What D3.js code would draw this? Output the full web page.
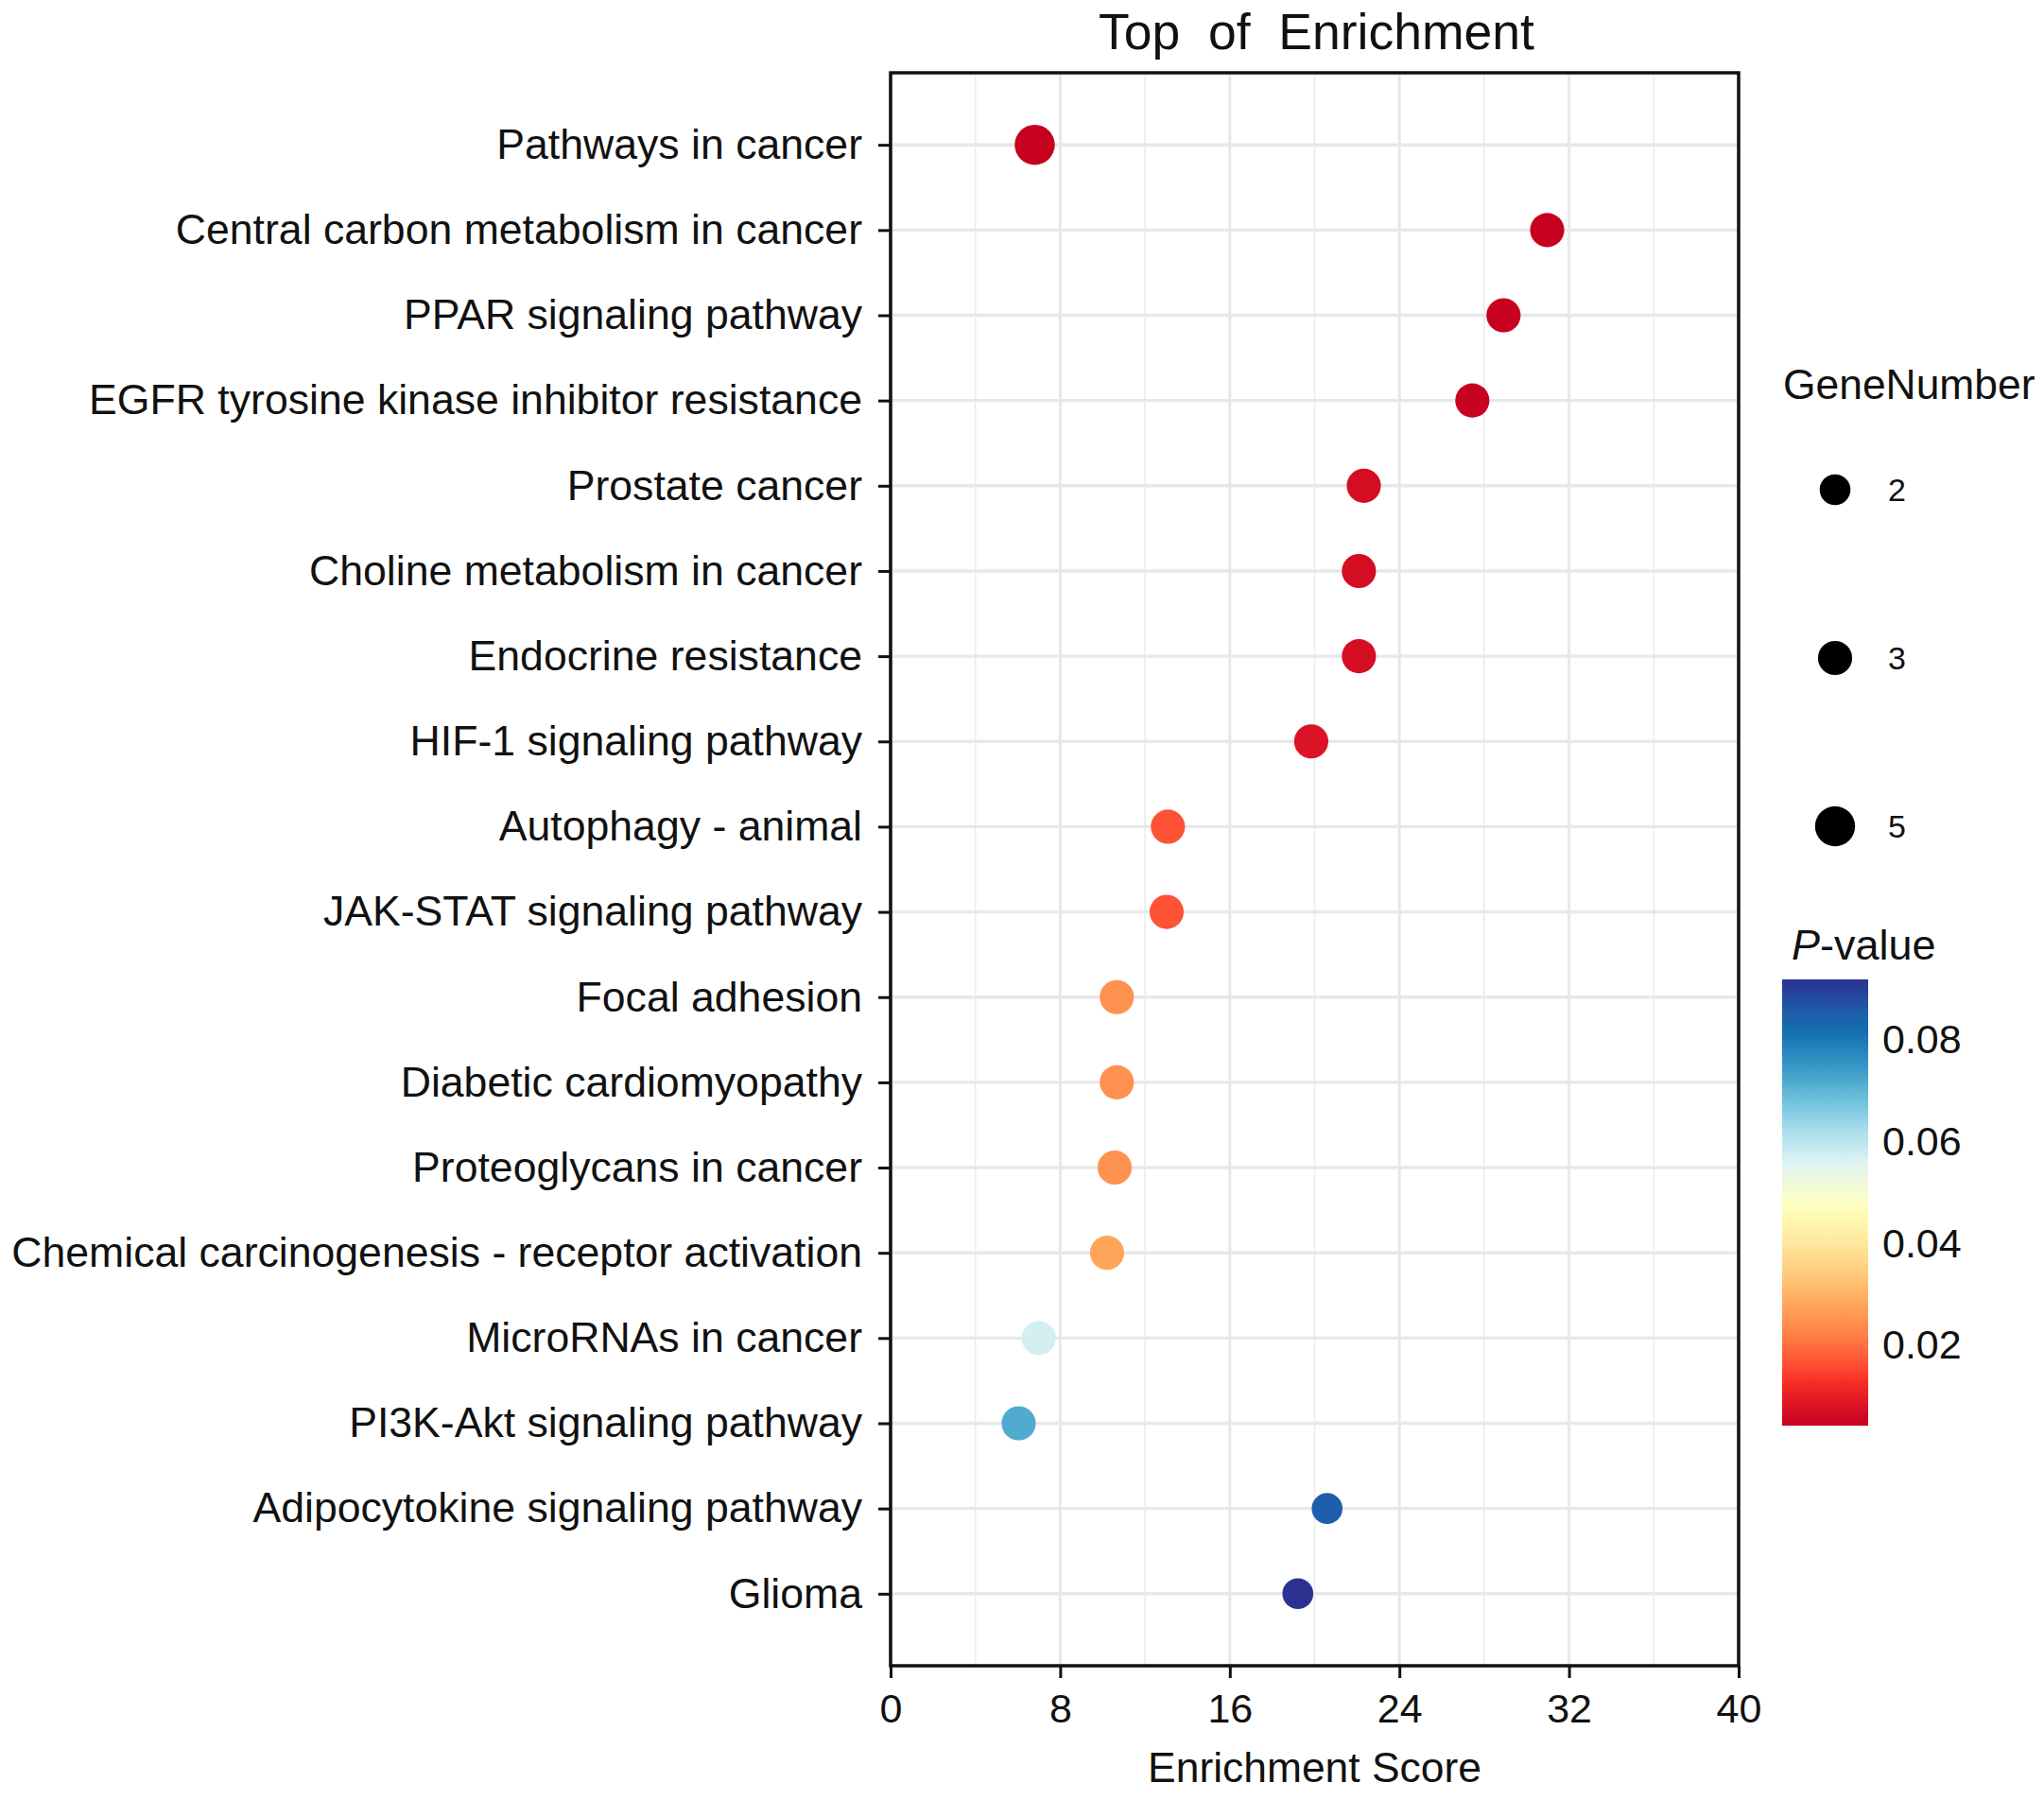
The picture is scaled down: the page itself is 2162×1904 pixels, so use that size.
<!DOCTYPE html>
<html>
<head>
<meta charset="utf-8">
<script src="https://cdn.jsdelivr.net/npm/d3@7"></script>
<style>
  body { margin: 0; background: #fff; }
  svg { display: block; font-family: "Liberation Sans", Arial, sans-serif; }
</style>
</head>
<body>
<svg id="chart" width="2162" height="1904"></svg>
<script>
// data
const pathways = [
  "Pathways in cancer",
  "Central carbon metabolism in cancer",
  "PPAR signaling pathway",
  "EGFR tyrosine kinase inhibitor resistance",
  "Prostate cancer",
  "Choline metabolism in cancer",
  "Endocrine resistance",
  "HIF-1 signaling pathway",
  "Autophagy - animal",
  "JAK-STAT signaling pathway",
  "Focal adhesion",
  "Diabetic cardiomyopathy",
  "Proteoglycans in cancer",
  "Chemical carcinogenesis - receptor activation",
  "MicroRNAs in cancer",
  "PI3K-Akt signaling pathway",
  "Adipocytokine signaling pathway",
  "Glioma"
];
const enrichScore = [6.80, 30.97, 28.91, 27.44, 22.32, 22.09, 22.09, 19.84, 13.08, 13.02,
  10.67, 10.67, 10.57, 10.21, 6.99, 6.04, 20.59, 19.21];
const geneNumber = [5, 3, 3, 3, 3, 3, 3, 3, 3, 3, 3, 3, 3, 3, 3, 3, 2, 2];
const pValue = [0.0041, 0.0043, 0.0044, 0.0046, 0.0067, 0.0068, 0.0068, 0.0080, 0.0164, 0.0166,
  0.0247, 0.0247, 0.0250, 0.0278, 0.0570, 0.0715, 0.0847, 0.0917];

const xTicks = [0, 8, 16, 24, 32, 40];
const xMinor = [4, 12, 20, 28, 36];
const sizeLegend = [2, 3, 5];
const pTicks = [0.02, 0.04, 0.06, 0.08];

// palette of the colour bar, low p (red) to high p (blue)
const palette = [
  [0, "#c6001f"], [0.06, "#e41a26"], [0.095, "#f72b26"], [0.13, "#fe4a31"],
  [0.20, "#ff7d45"], [0.27, "#fea55a"], [0.34, "#fecb7a"], [0.41, "#fee89e"],
  [0.49, "#ffffbd"], [0.52, "#f8fccc"], [0.59, "#def3f3"], [0.66, "#abdeec"],
  [0.73, "#6ec0dc"], [0.80, "#3a9ac8"], [0.88, "#1470b2"], [0.93, "#1f5ba8"],
  [1, "#2c3192"]
];

const rows = pathways.map((name, i) => ({
  name: name, score: enrichScore[i], genes: geneNumber[i], p: pValue[i]
}));

const svg = d3.select("#chart");
const plot = { left: 942, right: 1839, top: 77, bottom: 1762 };

// scales
const x = d3.scaleLinear().domain([0, 40]).range([plot.left, plot.right]);
const y = d3.scalePoint().domain(pathways).range([plot.top, plot.bottom]).padding(0.845);
const size = d3.scaleRadial().domain([2, 5]).range([16.3, 21.2]);
const pExtent = d3.extent(pValue);
const tToP = d3.scaleLinear().domain([0, 1]).range(pExtent);
const color = d3.scaleLinear()
  .domain(palette.map(d => tToP(d[0])))
  .range(palette.map(d => d[1]))
  .interpolate(d3.interpolateRgb)
  .clamp(true);

// grid
const grid = svg.append("g");
grid.selectAll(".minor").data(xMinor).join("line")
  .attr("x1", d => x(d)).attr("x2", d => x(d))
  .attr("y1", plot.top).attr("y2", plot.bottom)
  .attr("stroke", "#ececec").attr("stroke-width", 1.6);
grid.selectAll(".major").data(xTicks).join("line")
  .attr("x1", d => x(d)).attr("x2", d => x(d))
  .attr("y1", plot.top).attr("y2", plot.bottom)
  .attr("stroke", "#e8e8e8").attr("stroke-width", 3);
grid.selectAll(".hrow").data(pathways).join("line")
  .attr("x1", plot.left).attr("x2", plot.right)
  .attr("y1", d => y(d)).attr("y2", d => y(d))
  .attr("stroke", "#e8e8e8").attr("stroke-width", 3.4);

// points
svg.append("g").selectAll("circle").data(rows).join("circle")
  .attr("cx", d => x(d.score))
  .attr("cy", d => y(d.name))
  .attr("r", d => size(d.genes))
  .attr("fill", d => color(d.p));

// frame
svg.append("rect")
  .attr("x", plot.left).attr("y", plot.top)
  .attr("width", plot.right - plot.left).attr("height", plot.bottom - plot.top)
  .attr("fill", "none").attr("stroke", "#111").attr("stroke-width", 3.5);

// x axis
const xAxis = svg.append("g")
  .attr("transform", `translate(0,${plot.bottom})`)
  .call(d3.axisBottom(x).tickValues(xTicks).tickSize(13).tickPadding(16));
xAxis.select(".domain").remove();
xAxis.selectAll(".tick line").attr("stroke", "#111").attr("stroke-width", 3);
xAxis.selectAll(".tick text")
  .attr("font-size", 43).attr("fill", "#111").attr("font-family", null);

// y axis
const yAxis = svg.append("g")
  .attr("transform", `translate(${plot.left},0)`)
  .call(d3.axisLeft(y).tickSize(13).tickPadding(17));
yAxis.select(".domain").remove();
yAxis.selectAll(".tick line").attr("stroke", "#111").attr("stroke-width", 3);
yAxis.selectAll(".tick text")
  .attr("font-size", 44.6).attr("fill", "#111").attr("font-family", null);

// titles
svg.append("text")
  .attr("x", (plot.left + plot.right) / 2 + 2).attr("y", 52)
  .attr("text-anchor", "middle").attr("font-size", 53.5).attr("fill", "#111")
  .style("white-space", "pre")
  .text("Top  of  Enrichment");
svg.append("text")
  .attr("x", (plot.left + plot.right) / 2).attr("y", 1885)
  .attr("text-anchor", "middle").attr("font-size", 44.4).attr("fill", "#111")
  .text("Enrichment Score");

// size legend
svg.append("text")
  .attr("x", 1886).attr("y", 422)
  .attr("font-size", 44.4).attr("fill", "#111")
  .text("GeneNumber");
const legY = d3.scalePoint().domain(sizeLegend).range([518, 874]);
const sizeKeys = svg.append("g").selectAll("g").data(sizeLegend).join("g")
  .attr("transform", d => `translate(1941,${legY(d)})`);
sizeKeys.append("circle").attr("r", d => size(d)).attr("fill", "#000");
sizeKeys.append("text")
  .attr("x", 56).attr("dy", "0.36em")
  .attr("font-size", 34).attr("fill", "#111")
  .text(d => d);

// colour bar legend
const bar = { x: 1885, w: 91, top: 1036, bottom: 1508 };
const grad = svg.append("defs").append("linearGradient")
  .attr("id", "pgrad").attr("x1", 0).attr("x2", 0).attr("y1", 1).attr("y2", 0);
grad.selectAll("stop").data(palette).join("stop")
  .attr("offset", d => d[0])
  .attr("stop-color", d => d[1]);
svg.append("rect")
  .attr("x", bar.x).attr("y", bar.top)
  .attr("width", bar.w).attr("height", bar.bottom - bar.top)
  .attr("fill", "url(#pgrad)");
const pScale = d3.scaleLinear().domain(pExtent).range([bar.bottom, bar.top]);
svg.append("g").selectAll("text").data(pTicks).join("text")
  .attr("x", 1991).attr("y", d => pScale(d)).attr("dy", "0.35em")
  .attr("font-size", 43).attr("fill", "#111")
  .text(d => d3.format(".2f")(d));

const pTitle = svg.append("text")
  .attr("x", 1895).attr("y", 1015)
  .attr("font-size", 45).attr("fill", "#111");
pTitle.append("tspan").attr("font-style", "italic").text("P");
pTitle.append("tspan").text("-value");
</script>
</body>
</html>
